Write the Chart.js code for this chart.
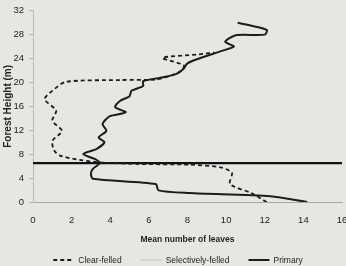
<!DOCTYPE html>
<html>
<head>
<meta charset="utf-8">
<script src="https://cdn.jsdelivr.net/npm/chart.js@4.4.1/dist/chart.umd.min.js"></script>
<style>
    html, body { margin: 0; padding: 0; background: #e8e6e3; }
    #wrap { width: 346px; height: 266px; }
</style>
</head>
<body>
<div id="wrap"><canvas id="leavesChart" width="346" height="266"></canvas></div>
<script>
// ===== DATOS =====
const xTicks = [0, 2, 4, 6, 8, 10, 12, 14, 16];
const yTicks = [0, 2, 4, 6, 8, 10, 12, 14, 16, 18, 20, 22, 24, 26, 28, 30, 32];

const seriesNames = ['Clear-felled', 'Selectively-felled', 'Primary'];

// clear-felled (dashed)
const clearLeaves = [12.1, 11.3, 10.2, 10.3, 9.7, 8.1, 5.5, 3.6, 2.4, 1.4, 1.1, 1.0, 1.5, 1.0, 1.2, 0.6, 1.0, 1.7, 4.5, 6.4, 7.2, 7.7, 7.8, 6.7, 8.6, 9.4];
const clearHeight = [0, 1.5, 3.0, 4.9, 5.8, 6.25, 6.35, 6.6, 7.05, 7.75, 8.6, 10.2, 11.9, 13.6, 15.3, 17.2, 18.6, 20.1, 20.4, 20.5, 21.2, 22.0, 22.9, 24.1, 24.7, 25.0];

// selectively-felled (not visible in the figure)
const selectLeaves = [];
const selectHeight = [];

// primary (solid)
const primaryLeaves = [14.2, 12.3, 8.1, 6.5, 6.35, 3.1, 3.0, 3.1, 3.46, 3.2, 2.6, 3.3, 3.7, 3.4, 3.8, 3.6, 3.8, 4.0, 4.8, 4.25, 4.5, 5.0, 5.1, 5.7, 5.7, 6.6, 7.4, 7.8, 8.0, 8.6, 9.7, 10.4, 9.95, 10.5, 12.0, 12.1, 10.6];
const primaryHeight = [0, 0.95, 1.5, 1.95, 3.0, 3.9, 4.7, 5.55, 6.5, 7.2, 8.0, 8.9, 10.0, 10.8, 11.9, 13.0, 13.9, 14.4, 15.0, 15.9, 16.9, 17.7, 18.6, 19.4, 20.2, 20.8, 21.4, 22.3, 23.2, 24.0, 25.2, 26.0, 26.8, 27.9, 28.0, 28.8, 30.0];

// horizontal reference line
const refLeaves = [0, 16];
const refHeight = [6.5, 6.5];

function toPoints(xs, ys) {
    return xs.map((x, i) => ({ x: x, y: ys[i] }));
}

const regular = "'Liberation Sans', Arial, sans-serif";

// ===== LEYENDA =====
const legendRow = {
    id: 'legendRow',
    afterDraw(chart) {
        const ctx = chart.ctx;
        const sets = chart.data.datasets.filter(d => seriesNames.includes(d.label));
        ctx.save();
        ctx.font = '8.5px ' + regular;
        const sample = 21, gap = 4, space = 19;
        const widths = sets.map(d => sample + gap + ctx.measureText(d.label).width);
        const total = widths.reduce((a, b) => a + b, 0) + space * (sets.length - 1);
        let x = 178 - total / 2;
        const y = 260;
        sets.forEach((d, i) => {
            ctx.beginPath();
            ctx.setLineDash(d.borderDash || []);
            ctx.strokeStyle = d.borderColor;
            ctx.lineWidth = d.borderWidth;
            ctx.moveTo(x, y);
            ctx.lineTo(x + sample, y);
            ctx.stroke();
            ctx.setLineDash([]);
            ctx.fillStyle = '#222';
            ctx.textBaseline = 'middle';
            ctx.fillText(d.label, x + sample + gap, y + 0.5);
            x += widths[i] + space;
        });
        ctx.restore();
    }
};

const ctx = document.getElementById('leavesChart');

new Chart(ctx, {
    type: 'scatter',
    data: {
        datasets: [
            {
                label: seriesNames[0],
                data: toPoints(clearLeaves, clearHeight),
                showLine: true,
                borderColor: '#1c1c1c',
                borderWidth: 1.8,
                borderDash: [4, 3],
                tension: 0.25,
                pointRadius: 0
            },
            {
                label: seriesNames[1],
                data: toPoints(selectLeaves, selectHeight),
                showLine: true,
                borderColor: '#d4d2ce',
                borderWidth: 2,
                pointRadius: 0
            },
            {
                label: seriesNames[2],
                data: toPoints(primaryLeaves, primaryHeight),
                showLine: true,
                borderColor: '#1c1c1c',
                borderWidth: 2,
                tension: 0.25,
                pointRadius: 0
            },
            {
                label: 'ref',
                data: toPoints(refLeaves, refHeight),
                showLine: true,
                borderColor: '#111',
                borderWidth: 2.4,
                pointRadius: 0
            }
        ]
    },
    options: {
        responsive: false,
        animation: false,
        layout: { padding: { left: 0, right: 4, top: 9, bottom: 18 } },
        plugins: {
            legend: { display: false },
            tooltip: { enabled: false }
        },
        scales: {
            x: {
                type: 'linear',
                min: 0,
                max: 16,
                afterBuildTicks: s => { s.ticks = xTicks.map(v => ({ value: v })); },
                afterFit: s => { s.height = 46; s.paddingRight = 4; s.paddingLeft = 0; },
                ticks: { font: { family: regular, size: 9.5 }, color: '#222', padding: 9 },
                grid: { drawOnChartArea: false, tickLength: 4, color: 'rgba(0,0,0,0)' },
                border: { color: '#a9a7a3', width: 1 },
                title: {
                    display: true,
                    text: 'Mean number of leaves',
                    font: { family: regular, size: 8.5, weight: 'bold' },
                    color: '#222',
                    padding: { top: 4, bottom: 3 }
                }
            },
            y: {
                type: 'linear',
                min: 0,
                max: 32,
                afterBuildTicks: s => { s.ticks = yTicks.map(v => ({ value: v })); },
                afterFit: s => { s.width = 33; },
                ticks: { font: { family: regular, size: 9.5 }, color: '#222', padding: 5 },
                grid: { drawOnChartArea: false, tickLength: 4, color: '#b4b2ae' },
                border: { color: '#bdbbb7', width: 1, dash: [1, 2] },
                title: {
                    display: true,
                    text: 'Forest Height (m)',
                    font: { family: regular, size: 10, weight: 'bold' },
                    color: '#222',
                    padding: { top: 2, bottom: 0 }
                }
            }
        }
    },
    plugins: [legendRow]
});
</script>
</body>
</html>
